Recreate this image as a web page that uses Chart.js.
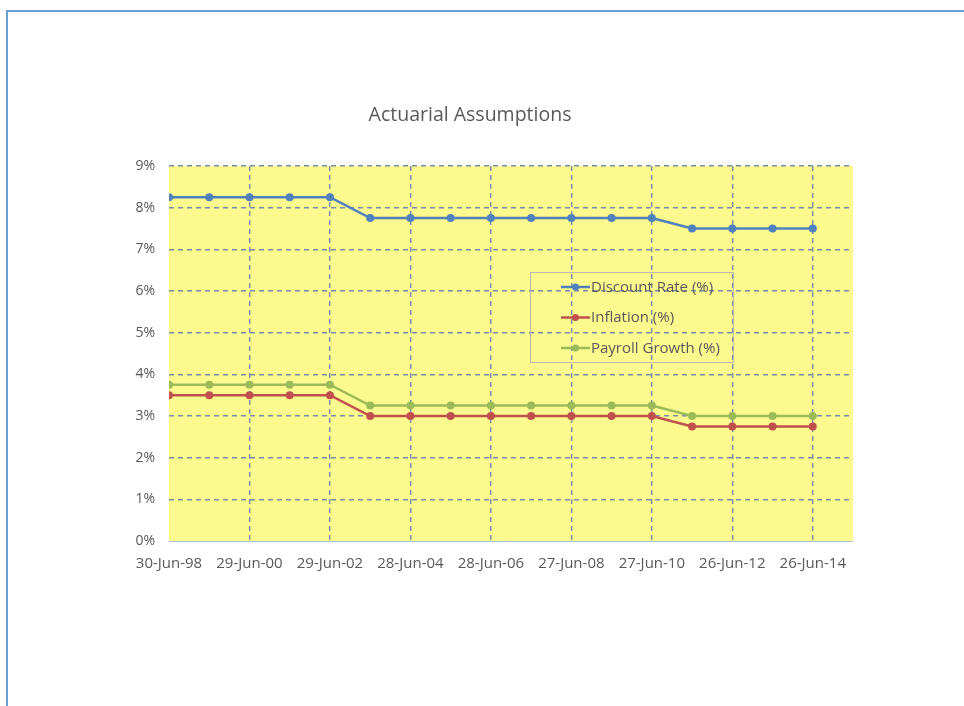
<!DOCTYPE html>
<html>
<head>
<meta charset="utf-8">
<script src="https://cdn.jsdelivr.net/npm/chart.js@4.4.1/dist/chart.umd.min.js"></script>
<style>
  html, body { margin: 0; padding: 0; background: #ffffff; }
  body { width: 964px; height: 706px; position: relative; overflow: hidden; }
  .frame {
    position: absolute; left: 6px; top: 10px; width: 980px; height: 720px;
    border-left: 2px solid #6a9fd4; border-top: 2px solid #6a9fd4;
  }
  #wrap { position: absolute; left: 0; top: 0; width: 964px; height: 706px; }
</style>
</head>
<body>
<div class="frame"></div>
<div id="wrap"><canvas id="chart" width="964" height="706"></canvas></div>
<script>
// Valuation dates (one per year)
const dates = [
  '30-Jun-98', '30-Jun-99', '29-Jun-00', '29-Jun-01', '29-Jun-02', '29-Jun-03',
  '28-Jun-04', '28-Jun-05', '28-Jun-06', '28-Jun-07', '27-Jun-08', '27-Jun-09',
  '27-Jun-10', '27-Jun-11', '26-Jun-12', '26-Jun-13', '26-Jun-14'
];

// Assumptions, in percent
const discountRate  = [8.25, 8.25, 8.25, 8.25, 8.25, 7.75, 7.75, 7.75, 7.75, 7.75, 7.75, 7.75, 7.75, 7.5, 7.5, 7.5, 7.5];
const inflation     = [3.5, 3.5, 3.5, 3.5, 3.5, 3.0, 3.0, 3.0, 3.0, 3.0, 3.0, 3.0, 3.0, 2.75, 2.75, 2.75, 2.75];
const payrollGrowth = [3.75, 3.75, 3.75, 3.75, 3.75, 3.25, 3.25, 3.25, 3.25, 3.25, 3.25, 3.25, 3.25, 3.0, 3.0, 3.0, 3.0];

const seriesNames = ['Discount Rate (%)', 'Inflation (%)', 'Payroll Growth (%)'];
const seriesColors = ['#4f81bd', '#c0504d', '#9bbb59'];

const yTicks = [0, 1, 2, 3, 4, 5, 6, 7, 8, 9];
const chartTitle = 'Actuarial Assumptions';

const FONT = "'Open Sans', 'DejaVu Sans', sans-serif";
const TEXT = '#595959';
const GRID = '#7490a4';

function toPoints(values) {
  return values.map((v, i) => ({ x: i, y: v }));
}

const seriesValues = [discountRate, inflation, payrollGrowth];
const datasets = seriesValues.map((vals, k) => ({
  label: seriesNames[k],
  data: toPoints(vals),
  borderColor: seriesColors[k],
  backgroundColor: seriesColors[k],
  borderWidth: 2.5,
  pointRadius: 4,
  pointHoverRadius: 4,
  pointBorderWidth: 0,
  tension: 0
}));

// Yellow plot area
const plotBackground = {
  id: 'plotBackground',
  beforeDraw(chart) {
    const { ctx, chartArea: a } = chart;
    ctx.save();
    ctx.fillStyle = '#fcf98e';
    ctx.fillRect(a.left, a.top, a.right - a.left, a.bottom - a.top);
    ctx.restore();
  }
};

// Title and in-plot legend box
const overlay = {
  id: 'overlay',
  afterDraw(chart) {
    const { ctx } = chart;
    ctx.save();
    ctx.fillStyle = TEXT;
    ctx.font = "19.5px " + FONT;
    ctx.textAlign = 'center';
    ctx.textBaseline = 'middle';
    ctx.fillText(chartTitle, 470, 115);

    const bx = 530, by = 272, bw = 203, bh = 90;
    ctx.strokeStyle = '#b8b8b0';
    ctx.lineWidth = 1;
    ctx.strokeRect(bx + 0.5, by + 0.5, bw, bh);

    ctx.font = "15px " + FONT;
    ctx.textAlign = 'left';
    chart.data.datasets.forEach((ds, i) => {
      const y = by + 15 + i * 30.5;
      ctx.strokeStyle = ds.borderColor;
      ctx.lineWidth = 2.5;
      ctx.beginPath();
      ctx.moveTo(561, y);
      ctx.lineTo(590, y);
      ctx.stroke();
      ctx.fillStyle = ds.borderColor;
      ctx.beginPath();
      ctx.arc(575.5, y, 3.5, 0, Math.PI * 2);
      ctx.fill();
      ctx.fillStyle = TEXT;
      ctx.fillText(ds.label, 591, y + 0.5);
    });
    ctx.restore();
  }
};

new Chart(document.getElementById('chart'), {
  type: 'line',
  data: { datasets },
  plugins: [plotBackground, overlay],
  options: {
    responsive: false,
    animation: false,
    layout: { padding: { left: 0, right: 111, top: 166, bottom: 0 } },
    plugins: {
      legend: { display: false },
      title: { display: false },
      tooltip: { enabled: false }
    },
    scales: {
      x: {
        type: 'linear',
        min: 0,
        max: dates.length,
        afterBuildTicks(scale) {
          scale.ticks = dates.map((d, i) => ({ value: i })).filter(t => t.value % 2 === 0);
        },
        afterFit(scale) { scale.height = 706 - 541; },
        grid: {
          drawTicks: false,
          color: ctx => (ctx.tick && ctx.tick.value === 0) ? 'rgba(0,0,0,0)' : GRID,
          lineWidth: 1.4
        },
        border: { display: true, color: '#a9c2dc', width: 1, dash: [5, 4] },
        ticks: {
          padding: 14,
          maxRotation: 0,
          autoSkip: false,
          color: TEXT,
          font: { family: FONT, size: 15 },
          callback: v => dates[v] || ''
        }
      },
      y: {
        min: 0,
        max: 9,
        afterBuildTicks(scale) {
          scale.ticks = yTicks.map(v => ({ value: v }));
        },
        afterFit(scale) { scale.width = 169; },
        grid: {
          drawTicks: false,
          color: ctx => (ctx.tick && ctx.tick.value === 0) ? 'rgba(0,0,0,0)' : GRID,
          lineWidth: 1.4
        },
        border: { display: false, dash: [5, 4] },
        ticks: {
          padding: 14,
          color: TEXT,
          font: { family: FONT, size: 14 },
          callback: v => v + '%'
        }
      }
    }
  }
});
</script>
</body>
</html>
